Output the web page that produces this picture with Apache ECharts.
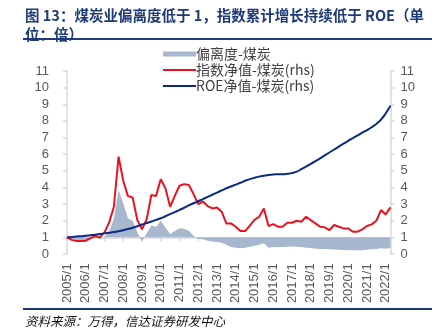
<!DOCTYPE html>
<html><head><meta charset="utf-8">
<script src="https://cdn.jsdelivr.net/npm/echarts@6/dist/echarts.min.js"></script>
<style>html,body{margin:0;padding:0;background:#fff}#c{width:439px;height:336px}</style>
</head><body><div id="c"></div>
<script>
// quarterly categories 2005/1 .. 2022/10
var categories = [];
for (var y = 2005; y <= 2022; y++) { [1,4,7,10].forEach(function(m){ categories.push(y + '/' + m); }); }
categories = categories.slice(0, 70);

var deviation = [1.0,0.9,0.85,0.8,0.72,0.85,1.12,0.85,1.05,1.35,2.1,3.85,3.05,2.15,2.0,1.3,0.75,1.25,1.72,1.62,
  2.0,1.6,1.2,1.38,1.55,1.52,1.4,1.1,0.9,0.88,0.8,0.75,0.72,0.68,0.55,0.42,0.38,0.35,0.38,0.44,
  0.5,0.55,0.64,0.38,0.42,0.4,0.42,0.44,0.45,0.44,0.42,0.38,0.36,0.32,0.3,0.3,0.28,0.27,0.25,0.24,
  0.22,0.22,0.22,0.23,0.25,0.28,0.3,0.34,0.32,0.36];
var indexNav = [1.0,0.85,0.78,0.78,0.8,0.95,1.08,1.0,1.3,1.9,2.84,5.85,4.4,3.48,3.4,2.04,1.48,2.08,3.55,3.48,
  4.5,3.95,2.84,3.5,4.1,4.2,4.15,3.6,3.0,3.15,2.88,2.74,2.8,2.54,1.84,1.84,1.64,1.38,1.38,1.7,
  2.05,2.24,2.74,1.68,1.8,1.64,1.64,1.88,1.88,2.0,1.94,2.24,2.04,1.84,1.64,1.6,1.44,1.74,1.64,1.54,
  1.54,1.34,1.34,1.48,1.68,1.78,2.0,2.64,2.38,2.8];
var roeNav = [1.0,1.02,1.05,1.07,1.1,1.13,1.16,1.2,1.24,1.28,1.32,1.37,1.43,1.5,1.58,1.67,1.77,1.86,1.95,2.05,
  2.15,2.27,2.4,2.52,2.65,2.78,2.92,3.05,3.17,3.3,3.43,3.56,3.69,3.82,3.95,4.06,4.17,4.28,4.4,4.5,
  4.58,4.65,4.71,4.75,4.78,4.8,4.8,4.82,4.86,4.95,5.1,5.25,5.42,5.58,5.75,5.93,6.1,6.28,6.46,6.63,
  6.8,6.97,7.13,7.3,7.45,7.62,7.82,8.08,8.45,8.92];
var seriesNames = ['偏离度-煤炭', '指数净值-煤炭(rhs)', 'ROE净值-煤炭(rhs)'];
var titleText = '图 13：煤炭业偏离度低于 1，指数累计增长持续低于 ROE（单\n位：倍）';
var sourceText = '资料来源：万得，信达证券研发中心';

var chart = echarts.init(document.getElementById('c'), null, {renderer: 'canvas'});
var axisGray = '#D9D9D9', labelGray = '#595959';
function yAx(pos, margin) {
  return {
    type: 'value', position: pos, min: 0, max: 11, interval: 1,
    axisLine: {show: true, lineStyle: {color: axisGray, width: 1.5}},
    axisTick: {show: true, length: 4, lineStyle: {color: axisGray, width: 1.5}},
    splitLine: {show: false},
    axisLabel: {color: labelGray, fontSize: 13, fontFamily: 'Liberation Sans', margin: margin}
  };
}
chart.setOption({
  animation: false,
  backgroundColor: '#fff',
  grid: {left: 67, right: 48.6, top: 71, bottom: 82, containLabel: false},
  legend: {
    orient: 'vertical', left: 157, top: 42, itemGap: 2, itemWidth: 33, itemHeight: 5,
    textStyle: {color: '#404040', fontSize: 14, fontFamily: 'Noto Sans CJK SC', padding: [0,0,0,-5]},
    data: [
      {name: seriesNames[0], icon: 'rect'},
      {name: seriesNames[1], itemStyle: {opacity: 0}},
      {name: seriesNames[2], itemStyle: {opacity: 0}}
    ]
  },
  xAxis: {
    type: 'category', data: categories, boundaryGap: false, offset: -16.64,
    axisLine: {show: true, onZero: false, lineStyle: {color: axisGray, width: 1.5}},
    axisTick: {show: true, length: 4, interval: function(i){ return i % 4 === 0; }, lineStyle: {color: axisGray, width: 1.5}},
    axisLabel: {rotate: 90, margin: 26, color: labelGray, fontSize: 13, fontFamily: 'Liberation Sans',
      interval: function(i){ return i % 4 === 0; }}
  },
  yAxis: [yAx('left', 18), yAx('right', 10)],
  series: [
    {name: seriesNames[0], type: 'line', yAxisIndex: 0, data: deviation, symbol: 'none',
     lineStyle: {width: 0}, itemStyle: {color: '#A7B7CD'},
     areaStyle: {color: '#A7B7CD', opacity: 1, origin: 1}, z: 1},
    {name: seriesNames[1], type: 'line', yAxisIndex: 1, data: indexNav, symbol: 'none',
     lineStyle: {width: 2, color: '#E8131F'}, itemStyle: {color: '#E8131F'}, z: 3},
    {name: seriesNames[2], type: 'line', yAxisIndex: 1, data: roeNav, symbol: 'none', smooth: true,
     lineStyle: {width: 2, color: '#0C2A84'}, itemStyle: {color: '#0C2A84'}, z: 4}
  ],
  graphic: [
    {type: 'text', left: 25, top: 6, style: {text: titleText, fill: '#1F3A78', font: 'bold 14.5px "Noto Sans CJK SC"', lineHeight: 19}},
    {type: 'rect', shape: {x: 23, y: 38, width: 409, height: 2}, style: {fill: '#1F3A78'}},
    {type: 'rect', shape: {x: 23, y: 308, width: 409, height: 2}, style: {fill: '#1F3A78'}},
    {type: 'text', left: 25, top: 315, style: {text: sourceText, fill: '#111', font: 'italic 12.5px "Noto Sans CJK SC"'}}
  ]
});
</script></body></html>
